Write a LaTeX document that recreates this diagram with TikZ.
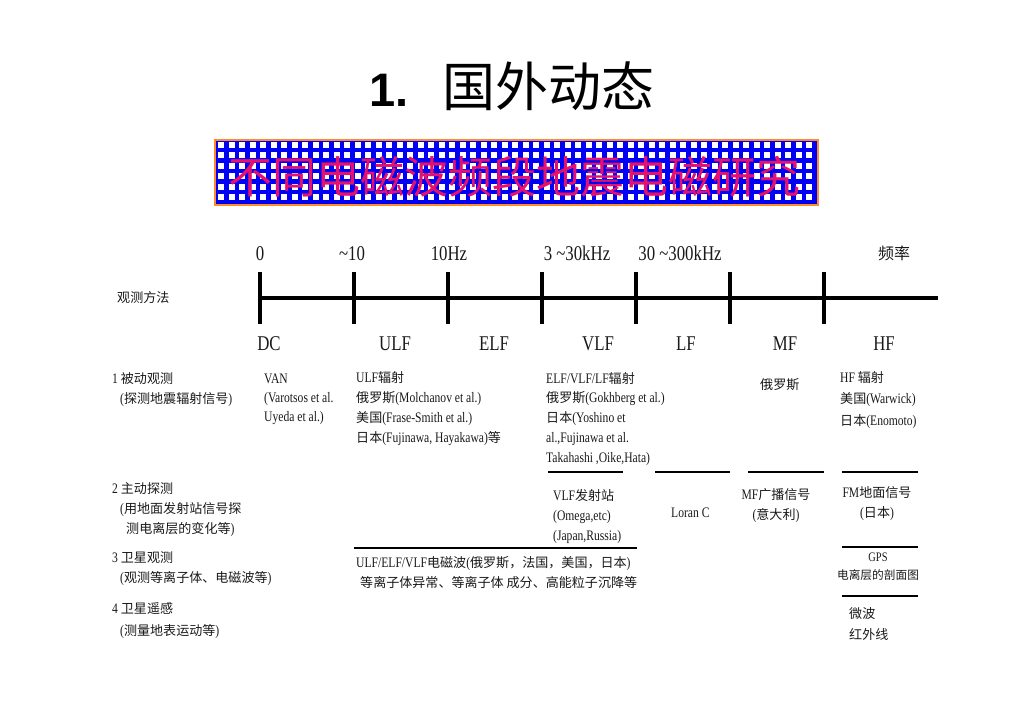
\documentclass[tikz,border=0pt]{standalone}
\usepackage{fontspec}
\setmainfont{Liberation Serif}[FakeStretch=0.8]
\newfontfamily\cjk{Noto Sans CJK SC}[Scale=0.9]
\newfontfamily\cjkbig{Noto Sans CJK SC}
\newfontfamily\titlesans{Liberation Sans}
\newcommand\C[1]{{\cjk #1}}
\definecolor{bannerblue}{RGB}{0,0,245}
\definecolor{bannerred}{RGB}{228,18,110}
\definecolor{bannerorange}{RGB}{255,140,40}
\definecolor{ink}{RGB}{25,25,25}
\tikzset{
  txt/.style={font=\fontsize{14.5}{20.3}\selectfont, anchor=base west, inner sep=0pt, align=left, text=ink},
  txtc/.style={txt, anchor=base, align=center},
  axlbl/.style={font=\fontsize{21}{24}\selectfont, anchor=base, inner sep=0pt, text=ink},
  axis/.style={line width=3.2pt, black},
  sep/.style={line width=1.8pt, black},
}
\begin{document}
\begin{tikzpicture}[x=1pt,y=-1pt]
\useasboundingbox (0,0) rectangle (1024,724);
% title
\node (title) at (512,86) {{\titlesans\bfseries\fontsize{47}{50}\selectfont 1.}\hspace{34pt}{\cjkbig\fontsize{53}{56}\selectfont 国外动态}};
% banner
\fill[bannerblue] (215,140) rectangle (818,205);
\foreach \yy in {145,155.4,...,198}{
  \foreach \xx in {221,231.5,...,814}{
    \fill[white] (\xx-3,\yy-3) rectangle (\xx+3,\yy+3);
  }
}
\draw[bannerorange, line width=2pt] (215,140) rectangle (818,205);
\node (banner) at (514,177) {\cjkbig\fontsize{44}{46}\selectfont\color{bannerred}不同电磁波频段地震电磁研究};
% axis
\coordinate (a0) at (260,298);
\coordinate (aend) at (938,298);
\draw[axis] (a0) -- (aend);
\foreach \xx/\nm in {260/t0,354/t1,448/t2,542/t3,636/t4,730/t5,824/t6}{
  \coordinate (\nm top) at (\xx,272);
  \coordinate (\nm bot) at (\xx,324);
  \draw[axis] (\nm top) -- (\nm bot);
}
\node[axlbl] (l0) at (260,260) {0};
\node[axlbl] (l1) at (352,260) {\textasciitilde10};
\node[axlbl] (l2) at (449,260) {10Hz};
\node[axlbl] (l3) at (577,260) {3 \textasciitilde30kHz};
\node[axlbl] (l4) at (680,260) {30 \textasciitilde300kHz};
\node[axlbl, font=\cjkbig\fontsize{16}{18}\selectfont] (l5) at (894,259) {频率};
\node[axlbl] (bDC) at (269,350) {DC};
\node[axlbl] (bULF) at (395,350) {ULF};
\node[axlbl] (bELF) at (494,350) {ELF};
\node[axlbl] (bVLF) at (598,350) {VLF};
\node[axlbl] (bLF) at (686,350) {LF};
\node[axlbl] (bMF) at (785,350) {MF};
\node[axlbl] (bHF) at (884,350) {HF};
\node[txt] (method) at (117,302) {\C{观测方法}};
% row 1 (base anchor = last line)
\node[txt] (r1) at (112,403.3) {1 \C{被动观测}\\\hspace*{8pt}(\C{探测地震辐射信号})};
\node[txt, font=\fontsize{14.5}{19}\selectfont] (van) at (264,421) {VAN\\(Varotsos et al.\\Uyeda et al.)};
\node[txt] (ulf) at (356,442.9) {ULF\C{辐射}\\\C{俄罗斯}(Molchanov et al.)\\\C{美国}(Frase-Smith et al.)\\\C{日本}(Fujinawa, Hayakawa)\C{等}};
\node[txt, font=\fontsize{14.5}{19.8}\selectfont] (elf) at (546,462.2) {ELF/VLF/LF\C{辐射}\\\C{俄罗斯}(Gokhberg et al.)\\\C{日本}(Yoshino et\\al.,Fujinawa et al.\\Takahashi ,Oike,Hata)};
\node[txt] (rus) at (760,389) {\C{俄罗斯}};
\node[txt, font=\fontsize{14.5}{21.5}\selectfont] (hf) at (840,425) {HF \C{辐射}\\\C{美国}(Warwick)\\\C{日本}(Enomoto)};
% row 2
\node[txt] (r2) at (112,533.6) {2 \C{主动探测}\\\hspace*{8pt}(\C{用地面发射站信号探}\\\hspace*{14pt}\C{测电离层的变化等})};
\coordinate (s1a) at (548,472); \coordinate (s1b) at (623,472);
\coordinate (s2a) at (655,472); \coordinate (s2b) at (730,472);
\coordinate (s3a) at (748,472); \coordinate (s3b) at (824,472);
\coordinate (s4a) at (842,472); \coordinate (s4b) at (918,472);
\draw[sep] (s1a) -- (s1b);
\draw[sep] (s2a) -- (s2b);
\draw[sep] (s3a) -- (s3b);
\draw[sep] (s4a) -- (s4b);
\node[txt] (vlf) at (553,540.6) {VLF\C{发射站}\\(Omega,etc)\\(Japan,Russia)};
\node[txt] (loran) at (671,517) {Loran C};
\node[txtc] (mfb) at (776,519.3) {MF\C{广播信号}\\(\C{意大利})};
\node[txtc] (fm) at (877,517.3) {FM\C{地面信号}\\(\C{日本})};
% row 3
\coordinate (s5a) at (354,548); \coordinate (s5b) at (637,548);
\draw[sep] (s5a) -- (s5b);
\coordinate (s6a) at (842,547); \coordinate (s6b) at (918,547);
\draw[sep] (s6a) -- (s6b);
\node[txt] (r3) at (112,582.3) {3 \C{卫星观测}\\\hspace*{8pt}(\C{观测等离子体、电磁波等})};
\node[txt] (sat) at (356,587.3) {ULF/ELF/VLF\C{电磁波}(\C{俄罗斯，法国，美国，日本})\\\hspace*{4pt}\C{等离子体异常、等离子体 成分、高能粒子沉降等}};
\node[txtc, font=\fontsize{13}{18}\selectfont] (gps) at (878,579) {GPS\\\C{电离层的剖面图}};
% row 4
\coordinate (s7a) at (842,596); \coordinate (s7b) at (918,596);
\draw[sep] (s7a) -- (s7b);
\node[txt, font=\fontsize{14.5}{22}\selectfont] (r4) at (112,635) {4 \C{卫星遥感}\\\hspace*{8pt}(\C{测量地表运动等})};
\node[txt, font=\fontsize{14.5}{21}\selectfont] (mw) at (849,639) {\C{微波}\\\C{红外线}};
\end{tikzpicture}
\end{document}
